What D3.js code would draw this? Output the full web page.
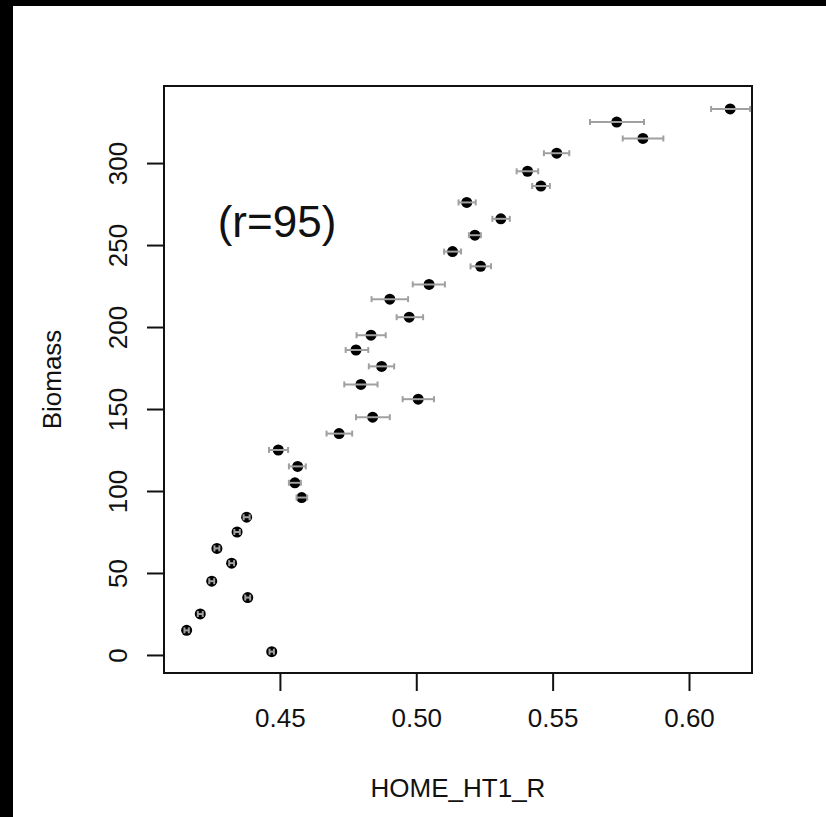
<!DOCTYPE html>
<html>
<head>
<meta charset="utf-8">
<script src="https://cdnjs.cloudflare.com/ajax/libs/d3/7.8.5/d3.min.js"></script>
<style>
  body { margin: 0; background: #000; }
  text { font-family: "Liberation Sans", Arial, sans-serif; fill: #111; }
</style>
</head>
<body>
<div id="scatter"></div>
<script>
// Biomass values (y) and HOME_HT1_R means with error bar limits (x)
var biomass = [2, 15, 25, 35, 45, 56, 65, 75, 84, 96, 105, 115, 125, 135, 145, 156, 165,
    176, 186, 195, 206, 217, 226, 237, 246, 256, 266, 276, 286, 295, 306, 315, 325, 333];
var homeHt = [0.4470, 0.4158, 0.4208, 0.4382, 0.4250, 0.4323, 0.4269, 0.4343, 0.4378, 0.4580,
    0.4555, 0.4565, 0.4494, 0.4717, 0.4840, 0.5007, 0.4797, 0.4873, 0.4779, 0.4834, 0.4974,
    0.4903, 0.5047, 0.5236, 0.5133, 0.5215, 0.5310, 0.5185, 0.5457, 0.5408, 0.5515, 0.5831,
    0.5735, 0.6151];
var homeLo = [0.4462, 0.4150, 0.4199, 0.4373, 0.4241, 0.4314, 0.4260, 0.4333, 0.4367, 0.4561,
    0.4533, 0.4533, 0.4460, 0.4671, 0.4779, 0.4950, 0.4736, 0.4826, 0.4741, 0.4781, 0.4928,
    0.4836, 0.4987, 0.5199, 0.5102, 0.5193, 0.5279, 0.5155, 0.5425, 0.5368, 0.5468, 0.5757,
    0.5637, 0.6081];
var homeHi = [0.4478, 0.4166, 0.4217, 0.4391, 0.4259, 0.4332, 0.4278, 0.4353, 0.4389, 0.4600,
    0.4577, 0.4595, 0.4530, 0.4765, 0.4903, 0.5065, 0.4858, 0.4919, 0.4824, 0.4888, 0.5025,
    0.4970, 0.5105, 0.5274, 0.5164, 0.5237, 0.5343, 0.5218, 0.5490, 0.5447, 0.5561, 0.5906,
    0.5835, 0.6224];

// Tick labels
var xTicks = [0.45, 0.50, 0.55, 0.60];
var yTicks = [0, 50, 100, 150, 200, 250, 300];

var svgWidth = 826;
var svgHeight = 817;

// Plot box
var margin = { top: 86, bottom: 144, right: 74, left: 164 };
var width = svgWidth - margin.left - margin.right;
var height = svgHeight - margin.top - margin.bottom;

var svg = d3.select("#scatter")
    .append("svg")
    .attr("width", svgWidth)
    .attr("height", svgHeight)
    .style("display", "block");

// Black frame on the left and top, white page
svg.append("rect")
    .attr("width", svgWidth)
    .attr("height", svgHeight)
    .attr("fill", "#000");
svg.append("rect")
    .attr("x", 13)
    .attr("y", 6)
    .attr("width", svgWidth - 13)
    .attr("height", svgHeight - 6)
    .attr("fill", "#fff");

var chartGroup = svg.append("g")
    .attr("transform", `translate(${margin.left}, ${margin.top})`);

// Scales
var xScale = d3.scaleLinear()
    .domain([0.4075, 0.6231])
    .range([0, width]);

var yScale = d3.scaleLinear()
    .domain([-11, 347])
    .range([height, 0]);

// Axes
var bottom = d3.axisBottom(xScale)
    .tickValues(xTicks)
    .tickFormat(d3.format(".2f"))
    .tickSize(18)
    .tickPadding(18);

var left = d3.axisLeft(yScale)
    .tickValues(yTicks)
    .tickSize(17)
    .tickPadding(0);

var xAxis = chartGroup.append("g")
    .attr("transform", `translate(0, ${height})`)
    .call(bottom);

var yAxis = chartGroup.append("g")
    .call(left);

[xAxis, yAxis].forEach(function(ax) {
    ax.select(".domain").remove();
    ax.selectAll(".tick line")
        .attr("stroke", "#111")
        .attr("stroke-width", 2);
    ax.selectAll(".tick text")
        .style("font-size", "26px")
        .attr("fill", "#111");
});

// Rotate y tick labels like base R
yAxis.selectAll(".tick text")
    .attr("x", null)
    .attr("dy", null)
    .attr("transform", "translate(-37, 0) rotate(-90)")
    .style("text-anchor", "middle");

// Box around the plot
chartGroup.append("rect")
    .attr("width", width)
    .attr("height", height)
    .attr("fill", "none")
    .attr("stroke", "#111")
    .attr("stroke-width", 2);

var data = biomass.map(function(b, i) {
    return { y: b, x: homeHt[i], lo: homeLo[i], hi: homeHi[i] };
});

// Points
chartGroup.selectAll("circle")
    .data(data)
    .enter()
    .append("circle")
    .attr("cx", d => xScale(d.x))
    .attr("cy", d => yScale(d.y))
    .attr("r", 5.5)
    .attr("fill", "#000");

// Horizontal error bars drawn over the points
var bars = chartGroup.append("g")
    .attr("stroke", "#a0a0a0")
    .attr("stroke-width", 2);

bars.selectAll("line.bar")
    .data(data)
    .enter()
    .append("line")
    .attr("class", "bar")
    .attr("x1", d => xScale(d.lo))
    .attr("x2", d => xScale(d.hi))
    .attr("y1", d => yScale(d.y))
    .attr("y2", d => yScale(d.y));

bars.selectAll("line.capLo")
    .data(data)
    .enter()
    .append("line")
    .attr("class", "capLo")
    .attr("x1", d => xScale(d.lo))
    .attr("x2", d => xScale(d.lo))
    .attr("y1", d => yScale(d.y) - 3)
    .attr("y2", d => yScale(d.y) + 3);

bars.selectAll("line.capHi")
    .data(data)
    .enter()
    .append("line")
    .attr("class", "capHi")
    .attr("x1", d => xScale(d.hi))
    .attr("x2", d => xScale(d.hi))
    .attr("y1", d => yScale(d.y) - 3)
    .attr("y2", d => yScale(d.y) + 3);

// Annotation
chartGroup.append("text")
    .attr("x", 277 - margin.left)
    .attr("y", 237 - margin.top)
    .style("font-size", "44px")
    .style("text-anchor", "middle")
    .text("(r=95)");

// Axis titles
chartGroup.append("text")
    .attr("x", width / 2)
    .attr("y", height + 124)
    .style("font-size", "26px")
    .style("text-anchor", "middle")
    .text("HOME_HT1_R");

chartGroup.append("text")
    .attr("transform", "rotate(-90)")
    .attr("x", 0 - height / 2)
    .attr("y", 52 - margin.left + 9)
    .style("font-size", "26px")
    .style("text-anchor", "middle")
    .text("Biomass");
</script>
</body>
</html>
